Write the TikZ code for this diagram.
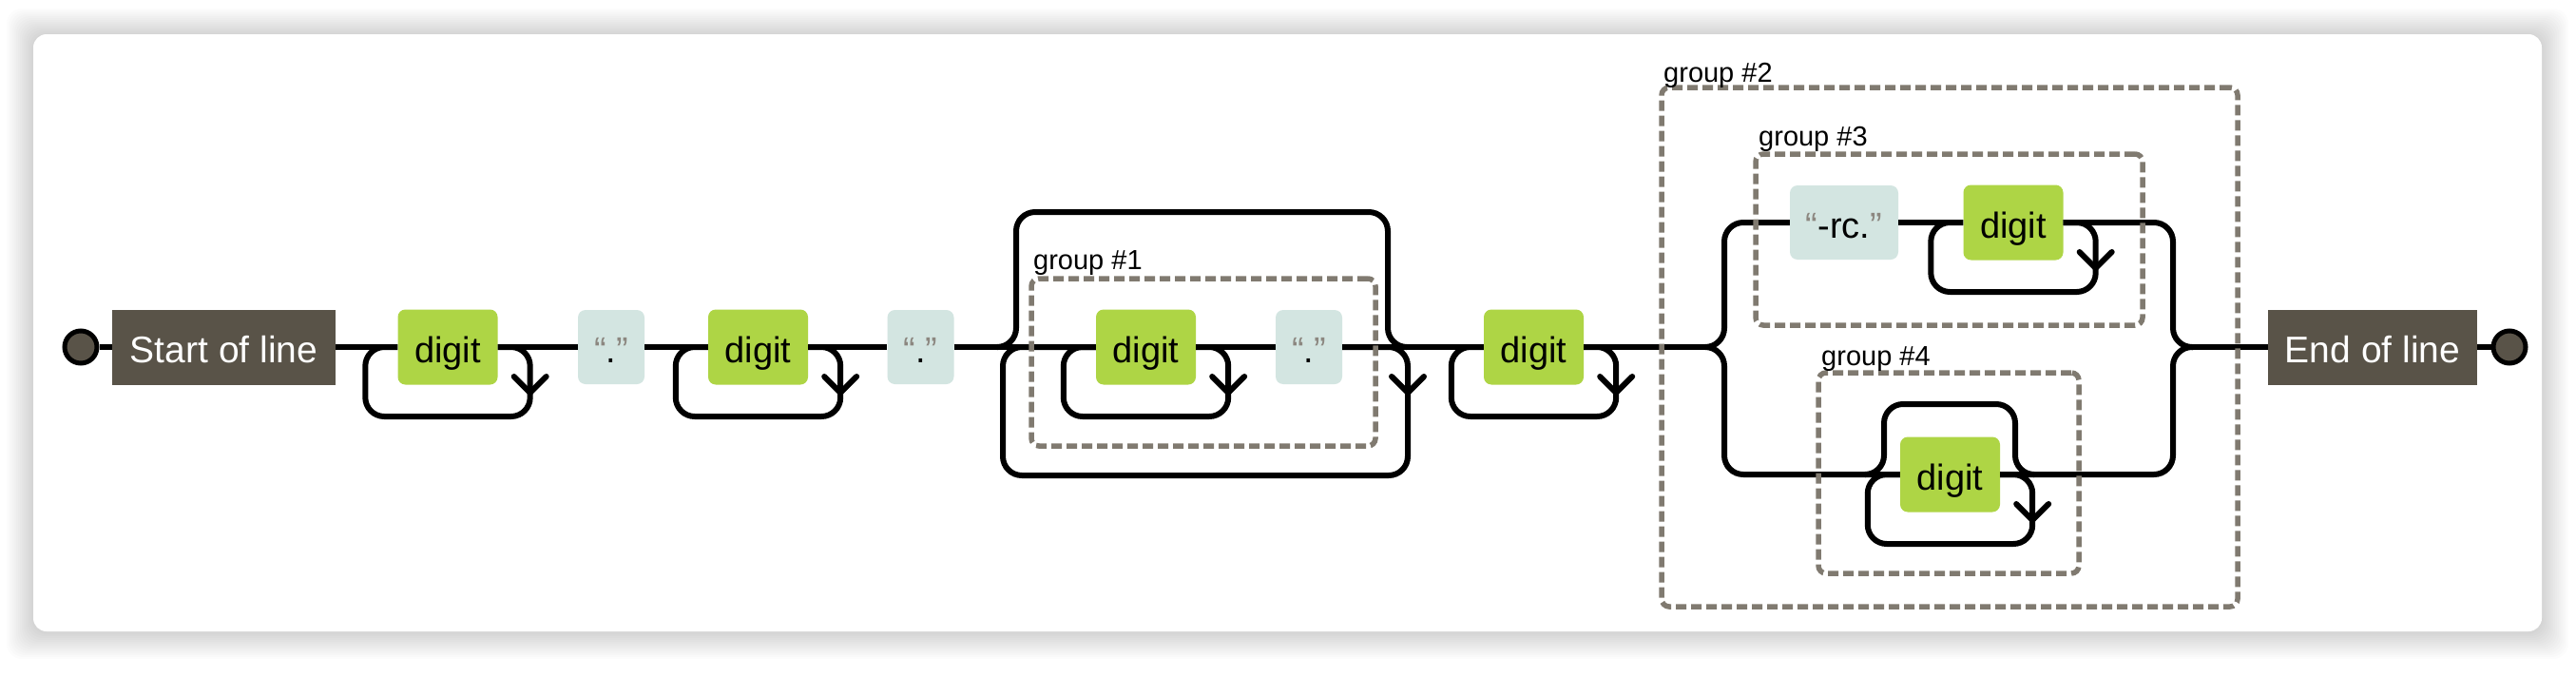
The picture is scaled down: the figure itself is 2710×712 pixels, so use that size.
\documentclass[tikz,border=0pt]{standalone}
\usepackage{fontspec}
\setmainfont{Liberation Sans}
\usetikzlibrary{calc}
\definecolor{termfill}{RGB}{89,83,72}
\definecolor{digitfill}{RGB}{174,213,69}
\definecolor{litfill}{RGB}{211,229,225}
\definecolor{quotegray}{RGB}{140,135,128}
\definecolor{dashgray}{RGB}{128,122,112}
\newcommand\fbig{\fontsize{39}{46}\selectfont}
\newcommand\fmid{\fontsize{38}{45}\selectfont}
\newcommand\flab{\fontsize{29}{34}\selectfont}
\newcommand\qo{\textcolor{quotegray}{“}}
\newcommand\qc{\textcolor{quotegray}{”}}
\newcommand\myloop[1]{%
  \draw[conn] (#1.east) -| ($(#1.east)+(34,73)$) -| ($(#1.west)+(-34,0)$) -- (#1.west);
  \draw[tip] ($(#1.east)+(17,31)$) -- ($(#1.east)+(34,48)$) -- ($(#1.east)+(51,31)$);
}
\begin{document}
\begin{tikzpicture}[x=1pt,y=-1pt,
  conn/.style={line width=6pt,draw=black,rounded corners=20pt,line join=round},
  tip/.style={line width=6pt,draw=black,line join=round,line cap=round},
  term/.style={rectangle,fill=termfill,text=white,font=\fbig,minimum height=79pt,
    text height=36pt,text depth=4pt,inner sep=0pt},
  digitbox/.style={rectangle,rounded corners=8pt,fill=digitfill,text=black,font=\fmid,
    minimum width=105pt,minimum height=79pt,text height=36pt,text depth=4pt,inner sep=0pt},
  litbox/.style={rectangle,rounded corners=8pt,fill=litfill,text=black,font=\fmid,
    minimum height=78pt,text height=36pt,text depth=4pt,inner sep=0pt},
  endpt/.style={circle,fill=termfill,draw=black,line width=5pt,minimum size=34pt,inner sep=0pt},
  gbox/.style={rectangle,draw=dashgray,line width=5.5pt,dash pattern=on 11pt off 5pt,
    rounded corners=8pt,inner sep=0pt},
  glabel/.style={anchor=base west,font=\flab,text=black,inner sep=0pt}
]
\useasboundingbox (0,0) rectangle (2710,712);
\fill[white] (0,0) rectangle (2710,712);
\foreach \i in {1,...,14}
  \fill[black,opacity=0.01,rounded corners=16pt] (35-2*\i,37-2*\i) rectangle (2674+2*\i,665+2*\i);
\fill[white,rounded corners=14pt] (35,36) rectangle (2674,664);

% nodes
\node[endpt] (sc) at (85,365) {};
\node[term,minimum width=235pt] (sb) at (235.5,365) {Start of line};
\node[digitbox] (d1) at (471,365) {digit};
\node[litbox,minimum width=70pt] (lit1) at (643,365) {\qo.\qc};
\node[digitbox] (d2) at (797.5,365) {digit};
\node[litbox,minimum width=70pt] (lit2) at (968.5,365) {\qo.\qc};
\node[digitbox] (d3) at (1205.5,365) {digit};
\node[litbox,minimum width=70pt] (lit3) at (1377,365) {\qo.\qc};
\node[digitbox] (d4) at (1613.5,365) {digit};
\node[litbox,minimum width=114pt] (rc) at (1940,234) {\qo-rc.\qc};
\node[digitbox] (d5) at (2118,234) {digit};
\node[digitbox] (d6) at (2051.5,499) {digit};
\node[term,minimum width=220pt] (eb) at (2496,365) {End of line};
\node[endpt] (ec) at (2640,365) {};

\coordinate (sp) at (1794,365);
\coordinate (mp) at (2307,365);
\coordinate (b1s) at (1050,365);
\coordinate (b1tl) at (1069,223);
\coordinate (b1tr) at (1460,223);
\coordinate (b1e) at (1479,365);
\coordinate (g1lr) at (1481,500);
\coordinate (g1ll) at (1055,365);
\coordinate (g1arrow) at (1481,413);
\coordinate (b4s) at (1963,499);
\coordinate (b4tl) at (1982,425);
\coordinate (b4tr) at (2120,425);
\coordinate (b4e) at (2139,499);
\coordinate (upl) at (1814,234);
\coordinate (lol) at (1814,499);
\coordinate (rvx) at (2286,365);

% main line
\draw[conn] (sc) -- (sb.west) (sb.east) -- (d1.west) (d1.east) -- (lit1.west)
  (lit1.east) -- (d2.west) (d2.east) -- (lit2.west) (lit2.east) -- (d3.west)
  (d3.east) -- (lit3.west) (lit3.east) -- (d4.west) (d4.east) -- (sp);
\draw[conn] (mp) -- (eb.west) (eb.east) -- (ec);

% one-or-more loops
\myloop{d1}
\myloop{d2}
\myloop{d3}
\myloop{d4}
\myloop{d5}
\myloop{d6}

% group #1: optional bypass and repeat loop
\draw[conn] (b1s) -| (b1tl) -- (b1tr) |- (b1e);
\draw[conn] (lit3.east) -| (g1lr) -| (g1ll) -- (d3.west);
\draw[tip] ($(g1arrow)+(-17,-17)$) -- (g1arrow) -- ($(g1arrow)+(17,-17)$);

% alternation
\draw[conn] (sp) -| (upl) -- (rc.west);
\draw[conn] (rc.east) -- (d5.west);
\draw[conn] (d5.east) -| (rvx) -- (mp);
\draw[conn] (sp) -| (lol) -- (d6.west);
\draw[conn] (d6.east) -| (rvx) -- (mp);

% group #4 bypass
\draw[conn] (b4s) -| (b4tl) -- (b4tr) |- (b4e);

% group boxes
\node[gbox,minimum width=362pt,minimum height=176pt] (g1) at (1266,381) {};
\node[gbox,minimum width=606pt,minimum height=546pt] (g2) at (2051,365) {};
\node[gbox,minimum width=407pt,minimum height=180pt] (g3) at (2050.5,252) {};
\node[gbox,minimum width=274pt,minimum height=211pt] (g4) at (2050,497.5) {};
\node[glabel] (g1l) at (1087,283) {group \#1};
\node[glabel] (g2l) at (1750,86) {group \#2};
\node[glabel] (g3l) at (1850,153) {group \#3};
\node[glabel] (g4l) at (1916,384) {group \#4};
\end{tikzpicture}
\end{document}
